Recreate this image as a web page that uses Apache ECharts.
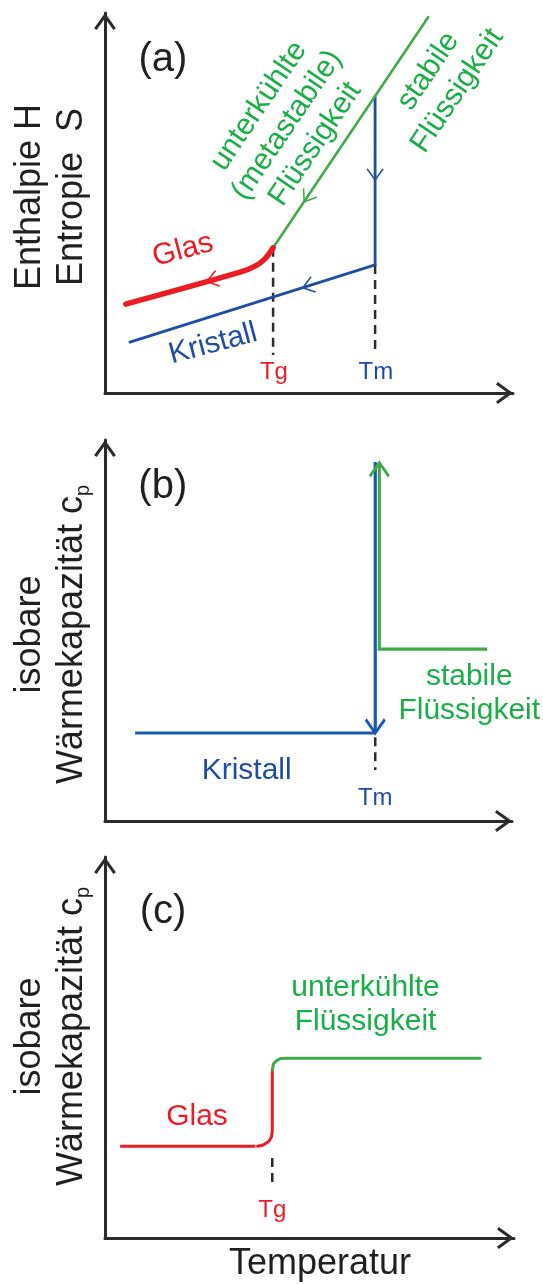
<!DOCTYPE html>
<html>
<head>
<meta charset="utf-8">
<script src="https://cdn.jsdelivr.net/npm/echarts@6/dist/echarts.min.js"></script>
<style>
html,body{margin:0;padding:0;background:#fff;}
#chart{width:543px;height:1284px;}
</style>
</head>
<body>
<div id="chart"></div>
<script>
// ---------------- DATA (arbitrary units: temperature 0..100, property 0..100) ----------------
// Panel (a): enthalpy / entropy vs temperature
const aGlass    = [[5.1, 23.4], [33.1, 31.8], [36.8, 33.4], [39.2, 35.3], [41.2, 38.2]];
const aLiquid   = [[41.2, 38.2], [79.2, 98.9]];
const aCrystal  = [[6.1, 13.4], [66.2, 33.7]];
const aMelt     = [[66.2, 78.1], [66.2, 33.7]];
const aTgDrop   = [[41.2, 38.2], [41.2, 10.0]];
const aTmDrop   = [[66.2, 33.7], [66.2, 10.0]];
// flow arrows: tip position and the point they come from
const aArrows = [
  {series: 'glass',   at: [25.0, 29.4], from: [33.1, 31.8]},
  {series: 'crystal', at: [48.5, 27.7], from: [66.2, 33.7]},
  {series: 'liquid',  at: [48.8, 50.3], from: [79.2, 98.9]},
  {series: 'crystal', at: [66.2, 56.1], from: [66.2, 78.1]}
];

// Panel (b): isobaric heat capacity, crystal / stable liquid
const bCrystal  = [[7.4, 23.1], [66.4, 23.1]];
const bMeltDown = [[66.4, 94.2], [66.4, 23.1]];
const bLiquid   = [[67.4, 94.0], [67.4, 45.1], [93.9, 45.1]];
const bTmDrop   = [[66.4, 22.0], [66.4, 13.4]];
const bArrows = [
  {series: 'crystal', at: [66.4, 23.1], from: [66.4, 94.2]},
  {series: 'liquid',  at: [67.4, 94.0], from: [67.4, 45.1]}
];

// Panel (c): isobaric heat capacity, glass / supercooled liquid
const cGlassFlat = [[3.7, 24.1], [36.8, 24.1]];
const cGlassStep = [[37.3, 24.1], [38.7, 24.4], [40.0, 25.3], [40.7, 26.5], [40.9, 28.1], [40.9, 44.1]];
const cLiquid    = [[40.9, 44.1], [41.2, 45.7], [41.9, 46.5], [42.9, 47.1], [44.4, 47.2], [91.7, 47.2]];
const cTgDrop    = [[40.9, 21.0], [40.9, 13.1]];

// Text annotations (anchor in data units)
const textA = [
  {id: 'panel',   text: '(a)', at: [14.2, 87.6]},
  {id: 'meta',    text: 'unterkühlte\n(metastabile)\nFlüssigkeit', at: [44.6, 70.5]},
  {id: 'stable',  text: 'stabile\nFlüssigkeit', at: [82.8, 82.1]},
  {id: 'glas',    text: 'Glas', at: [19.1, 37.6]},
  {id: 'kristall',text: 'Kristall', at: [26.5, 12.9]},
  {id: 'tg',      text: 'Tg', at: [41.4, 5.5]},
  {id: 'tm',      text: 'Tm', at: [66.4, 5.5]}
];
const textB = [
  {id: 'panel',    text: '(b)', at: [14.2, 87.7]},
  {id: 'kristallH',text: 'Kristall', at: [34.8, 13.1]},
  {id: 'stableH',  text: 'stabile\nFlüssigkeit', at: [89.5, 33.3]},
  {id: 'tm',       text: 'Tm', at: [66.4, 6.0]}
];
const textC = [
  {id: 'panel',   text: '(c)', at: [14.2, 85.6]},
  {id: 'glasH',   text: 'Glas', at: [22.5, 31.8]},
  {id: 'superH',  text: 'unterkühlte\nFlüssigkeit', at: [63.7, 61.2]},
  {id: 'tg',      text: 'Tg', at: [40.9, 7.3]}
];
const yNames = ['Enthalpie H\nEntropie  S', 'isobare\nWärmekapazität c{sub|p}', 'isobare\nWärmekapazität c{sub|p}'];
const xName = 'Temperatur';

// ---------------- STYLE ----------------
const FONT = '"Liberation Sans", Arial, Helvetica, sans-serif';
const COL = {
  red: '#ec1c24', blue: '#1f4ea1', blueB: '#1759ad', green: '#41ab4b',
  greenText: '#1aae48', dark: '#2b2b2b', text: '#231f20'
};
const textStyle = {
  panel:     {color: COL.text, fontSize: 40},
  meta:      {color: COL.greenText, fontSize: 30, lineHeight: 34, rotate: 56},
  stable:    {color: COL.greenText, fontSize: 30, lineHeight: 35, rotate: 56},
  glas:      {color: COL.red, fontSize: 30, rotate: 15},
  kristall:  {color: COL.blue, fontSize: 30, rotate: 15},
  tg:        {color: COL.red, fontSize: 24},
  tm:        {color: COL.blue, fontSize: 24},
  kristallH: {color: COL.blue, fontSize: 30},
  stableH:   {color: COL.greenText, fontSize: 30, lineHeight: 34},
  glasH:     {color: COL.red, fontSize: 30},
  superH:    {color: COL.greenText, fontSize: 30, lineHeight: 34}
};
const grids = [
  {left: 105, top: 13,  width: 408, height: 380},
  {left: 105, top: 440, width: 407, height: 381},
  {left: 105, top: 857, width: 409, height: 381}
];
const yNamePad = [[0, 0, 0, 12], [0, 8, 0, 0], [0, 0, 0, 22]];

// axis arrow: filled chevron, tip in the centre of its box
const AXIS_ARROW = 'path://M10,-15.6M10,0L20,14L17.7,15.6L10,4.8L2.3,15.6L0,14Z';
// open chevron pointing right, tip in the centre of its box
const CHEVRON = 'path://M0,0L10,7L0,14M20,7';

const chart = echarts.init(document.getElementById('chart'), null, {renderer: 'canvas'});

function axisLine() {
  return {
    show: true, onZero: false,
    symbol: ['none', AXIS_ARROW], symbolSize: [22, 34],
    lineStyle: {color: COL.dark, width: 3}
  };
}
const xAxes = grids.map((g, i) => ({
  type: 'value', gridIndex: i, min: 0, max: 100,
  axisLine: axisLine(), axisTick: {show: false}, axisLabel: {show: false}, splitLine: {show: false},
  name: i === 2 ? xName : '', nameLocation: 'middle', nameGap: 8,
  nameTextStyle: {fontFamily: FONT, fontSize: 36, color: COL.text, lineHeight: 36, padding: [0, 0, 0, 21]}
}));
const yAxes = grids.map((g, i) => ({
  type: 'value', gridIndex: i, min: 0, max: 100,
  axisLine: axisLine(), axisTick: {show: false}, axisLabel: {show: false}, splitLine: {show: false},
  name: yNames[i], nameLocation: 'middle', nameRotate: 90, nameGap: 12,
  nameTextStyle: {
    fontFamily: FONT, fontSize: 36, color: COL.text, lineHeight: 42, padding: yNamePad[i],
    rich: {sub: {fontFamily: FONT, fontSize: 20, color: COL.text, verticalAlign: 'bottom', lineHeight: 20}}
  }
}));

function line(gi, data, color, width, extra) {
  return Object.assign({
    type: 'line', xAxisIndex: gi, yAxisIndex: gi, data: data,
    showSymbol: false, symbol: 'none', silent: true, animation: false, clip: false, z: 3,
    lineStyle: {color: color, width: width, cap: 'round', join: 'round'}
  }, extra || {});
}
function dashed(gi, data) {
  return line(gi, data, COL.dark, 2.5, {z: 2, lineStyle: {color: COL.dark, width: 2.5, type: [9, 6], cap: 'butt'}});
}
function labels(gi, items) {
  return {
    type: 'scatter', xAxisIndex: gi, yAxisIndex: gi, symbolSize: 0, silent: true, animation: false, clip: false, z: 5,
    itemStyle: {color: 'transparent'},
    data: items.map(t => {
      const s = textStyle[t.id];
      return {
        value: t.at, name: t.text,
        label: {
          show: true, position: 'inside', formatter: '{b}', fontFamily: FONT, align: 'center',
          color: s.color, fontSize: s.fontSize, lineHeight: s.lineHeight || s.fontSize,
          rotate: s.rotate || 0, textBorderWidth: 0, textBorderColor: 'transparent', opacity: 1
        }
      };
    })
  };
}
const arrowColorA = {glass: COL.red, crystal: COL.blue, liquid: COL.green};
const arrowColorB = {crystal: COL.blueB, liquid: COL.green};
function arrows(gi, items, colors, size, width, rotations) {
  return {
    type: 'scatter', xAxisIndex: gi, yAxisIndex: gi, symbol: CHEVRON, symbolSize: size,
    silent: true, animation: false, clip: false, z: 6,
    data: items.map((a, k) => ({
      value: a.at, symbolRotate: rotations ? rotations[k] : 0,
      itemStyle: {color: 'none', borderColor: colors[a.series], borderWidth: width, opacity: 1}
    }))
  };
}

function buildOption(rotA, rotB) {
  return {
    backgroundColor: '#fff',
    animation: false,
    grid: grids,
    xAxis: xAxes,
    yAxis: yAxes,
    series: [
      // panel a
      dashed(0, aTgDrop), dashed(0, aTmDrop),
      line(0, aCrystal, COL.blue, 2.8),
      line(0, aMelt, COL.blue, 2.8),
      line(0, aLiquid, COL.green, 2.6),
      line(0, aGlass, COL.red, 5.5, {smooth: 0.35}),
      arrows(0, aArrows, arrowColorA, [22, 16], 1.6, rotA),
      labels(0, textA),
      // panel b
      dashed(1, bTmDrop),
      line(1, bCrystal, COL.blueB, 3.2, {lineStyle: {color: COL.blueB, width: 3.2, cap: 'butt'}}),
      line(1, bMeltDown, COL.blueB, 3.2, {lineStyle: {color: COL.blueB, width: 3.2, cap: 'butt'}}),
      line(1, bLiquid, COL.green, 3.2, {lineStyle: {color: COL.green, width: 3.2, cap: 'butt', join: 'miter'}}),
      arrows(1, bArrows, arrowColorB, [27, 19], 3, rotB),
      labels(1, textB),
      // panel c
      dashed(2, cTgDrop),
      line(2, cGlassFlat, COL.red, 3, {lineStyle: {color: COL.red, width: 3, cap: 'butt'}}),
      line(2, cGlassStep, COL.red, 3),
      line(2, cLiquid, COL.green, 3),
      labels(2, textC)
    ]
  };
}

chart.setOption(buildOption(null, null));

// orient the flow arrows along their lines (in pixel space)
function rotations(gi, items) {
  return items.map(a => {
    const p1 = chart.convertToPixel({gridIndex: gi}, a.from);
    const p2 = chart.convertToPixel({gridIndex: gi}, a.at);
    return Math.atan2(-(p2[1] - p1[1]), p2[0] - p1[0]) * 180 / Math.PI;
  });
}
chart.setOption(buildOption(rotations(0, aArrows), rotations(1, bArrows)));
</script>
</body>
</html>
